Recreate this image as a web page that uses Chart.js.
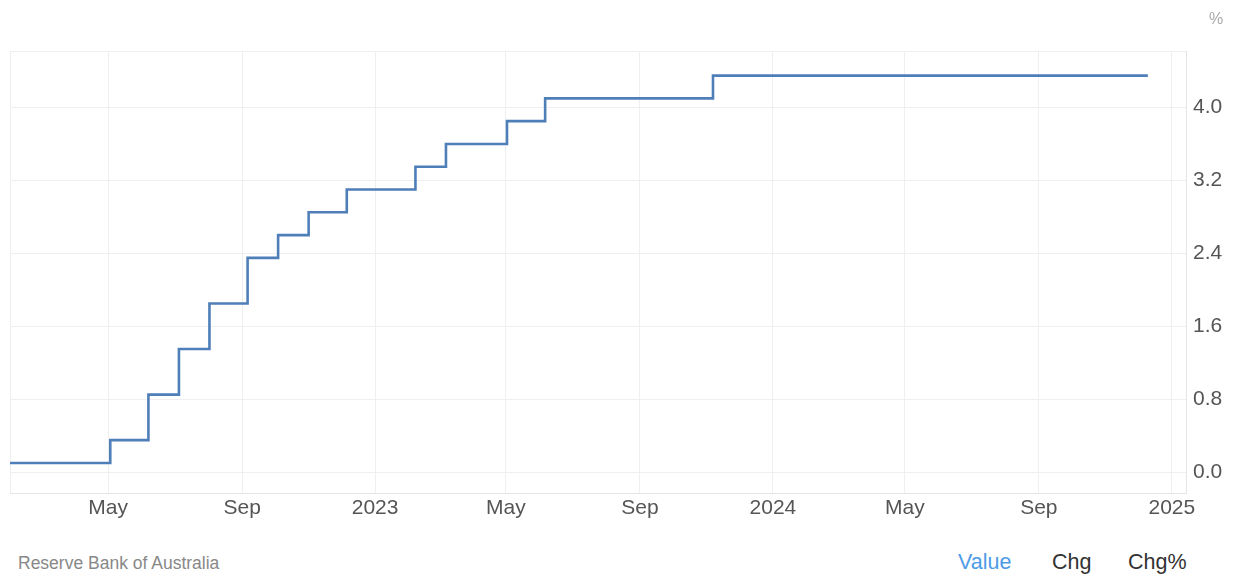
<!DOCTYPE html>
<html>
<head>
<meta charset="utf-8">
<script src="https://cdn.jsdelivr.net/npm/chart.js@4.4.1/dist/chart.umd.min.js"></script>
<style>
    body { margin: 0; background: #fff; font-family: "Liberation Sans", Arial, sans-serif; }
    #wrap { position: absolute; left: 0; top: 0; width: 1233px; height: 536px; }
    .txt { position: absolute; white-space: nowrap; }
</style>
</head>
<body>
<div id="wrap"><canvas id="taxaChart"></canvas></div>
<div class="txt" style="left:1209px; top:10px; font-size:16px; color:#aaa;">%</div>
<div class="txt" style="left:18px; top:553px; font-size:17.5px; color:#888;">Reserve Bank of Australia</div>
<div class="txt" style="left:958px; top:550px; font-size:21.5px; color:#4d9be6;">Value</div>
<div class="txt" style="left:1052px; top:550px; font-size:21.5px; color:#333;">Chg</div>
<div class="txt" style="left:1128px; top:550px; font-size:21.5px; color:#333;">Chg%</div>

<script>
// --- DADOS: taxa de juros (cash rate) ---
const DATAS = [
    '2022-01-31', '2022-05-03', '2022-06-07', '2022-07-05', '2022-08-02',
    '2022-09-06', '2022-10-04', '2022-11-01', '2022-12-06', '2023-02-07',
    '2023-03-07', '2023-05-02', '2023-06-06', '2023-11-07', '2024-12-10'
];
const TAXAS = [0.10, 0.35, 0.85, 1.35, 1.85, 2.35, 2.60, 2.85, 3.10, 3.35, 3.60, 3.85, 4.10, 4.35, 4.35];

// --- EIXOS ---
const X_TICKS_DATAS = ['2022-05-01', '2022-09-01', '2023-01-01', '2023-05-01', '2023-09-01', '2024-01-01', '2024-05-01', '2024-09-01', '2025-01-01'];
const X_TICKS_LABELS = ['May', 'Sep', '2023', 'May', 'Sep', '2024', 'May', 'Sep', '2025'];
const Y_TICKS = [0, 0.8, 1.6, 2.4, 3.2, 4.0];

const X_MIN = '2022-01-31';
const X_MAX = '2025-01-14';

// dias desde 1/1/2022
function dia(str) {
    const [a, m, d] = str.split('-').map(Number);
    return (Date.UTC(a, m - 1, d) - Date.UTC(2022, 0, 1)) / 864e5;
}

const pontos = DATAS.map((d, i) => ({ x: dia(d), y: TAXAS[i] }));
const xMin = dia(X_MIN), xMax = dia(X_MAX);
const yMin = -0.23, yMax = 4.62;

const corGrade = '#efefef';
const fonteEixo = { family: '"Liberation Sans", Arial, sans-serif', size: 21 };

new Chart(document.getElementById('taxaChart').getContext('2d'), {
    type: 'line',
    data: {
        datasets: [{
            data: pontos,
            borderColor: '#4f7fb8',
            borderWidth: 2.6,
            pointRadius: 0,
            stepped: 'before',
            fill: false
        }]
    },
    options: {
        responsive: true,
        maintainAspectRatio: false,
        animation: false,
        layout: { padding: { left: 10, top: 51, right: 0, bottom: 0 } },
        plugins: { legend: { display: false }, tooltip: { enabled: false } },
        scales: {
            x: {
                type: 'linear',
                min: xMin,
                max: xMax,
                afterBuildTicks: (eixo) => {
                    eixo.ticks = [{ value: xMin }].concat(X_TICKS_DATAS.map(d => ({ value: dia(d) })));
                },
                afterFit: (eixo) => { eixo.height = 43; },
                ticks: {
                    autoSkip: false,
                    maxRotation: 0,
                    padding: 3,
                    color: '#555',
                    font: fonteEixo,
                    callback: (v) => {
                        const i = X_TICKS_DATAS.findIndex(d => dia(d) === v);
                        return i >= 0 ? X_TICKS_LABELS[i] : '';
                    }
                },
                grid: { color: corGrade, drawTicks: false },
                border: { color: '#e6e6e6' }
            },
            y: {
                position: 'right',
                min: yMin,
                max: yMax,
                afterBuildTicks: (eixo) => {
                    eixo.ticks = Y_TICKS.map(v => ({ value: v })).concat([{ value: yMax }]);
                },
                afterFit: (eixo) => { eixo.width = 47; },
                ticks: {
                    padding: 7,
                    color: '#555',
                    font: fonteEixo,
                    callback: (v) => Y_TICKS.includes(v) ? v.toFixed(1) : ''
                },
                grid: { color: corGrade, drawTicks: false },
                border: { color: '#e6e6e6' }
            }
        }
    }
});
</script>
</body>
</html>
